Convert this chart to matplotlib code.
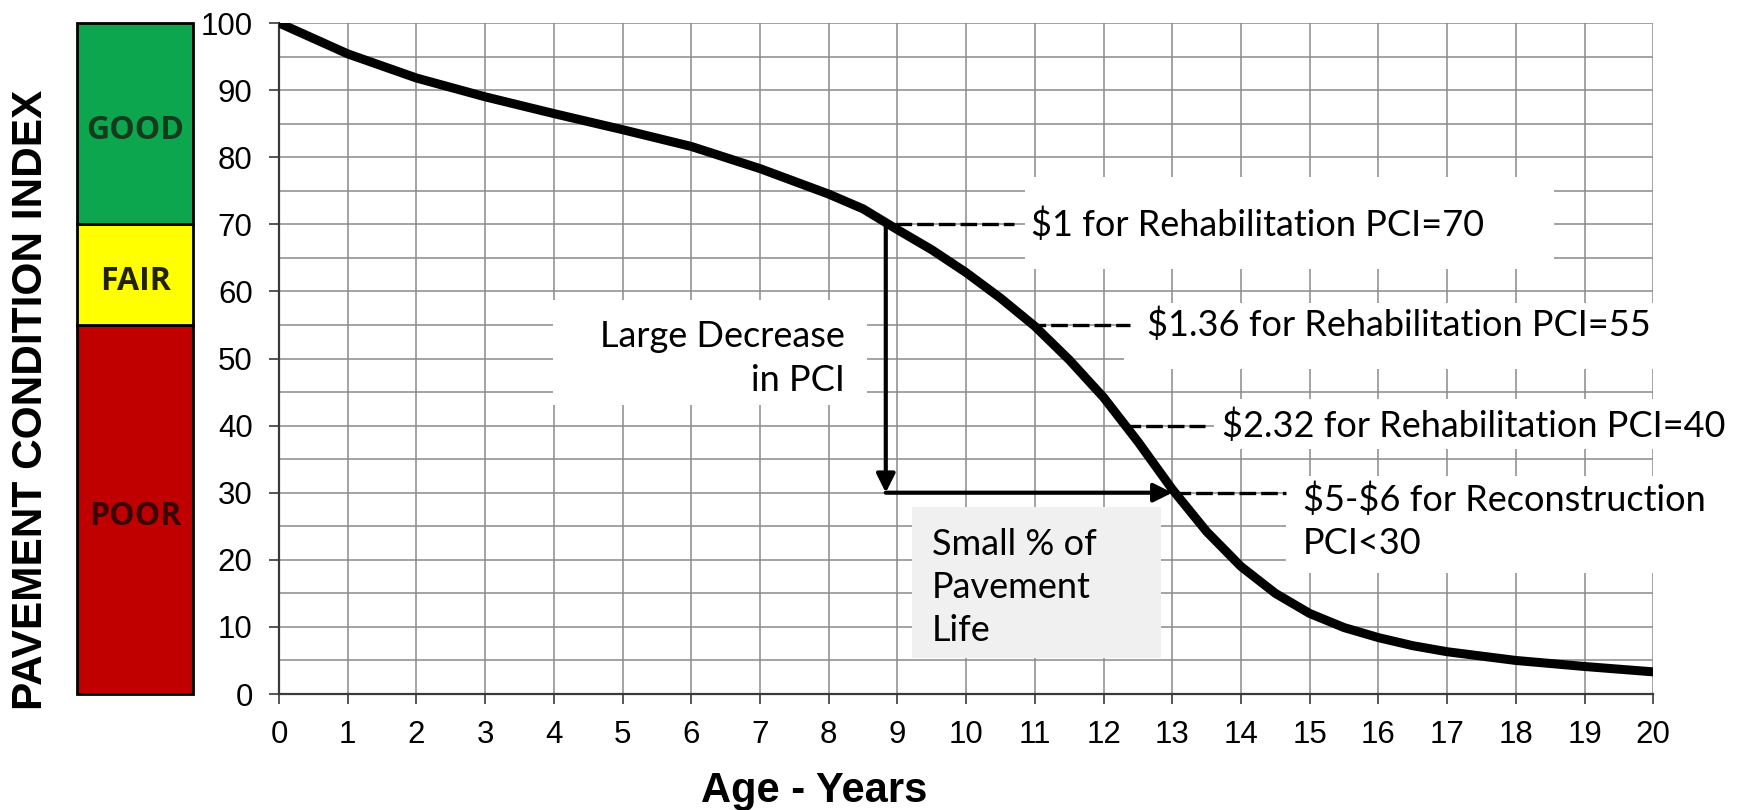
# =====================================================
# PAVEMENT CONDITION INDEX vs AGE
# =====================================================

import matplotlib.pyplot as plt
from matplotlib.patches import Rectangle

# -----------------------------
# DATA
# -----------------------------

# pavement age (years) and PCI
age = [0, 1, 2, 3, 4, 5, 6, 7, 8, 8.5, 9, 9.5, 10, 10.5, 11, 11.5, 12,
       12.5, 13, 13.5, 14, 14.5, 15, 15.5, 16, 16.5, 17, 18, 19, 20]
pci = [100, 95.4, 91.8, 89.0, 86.5, 84.1, 81.6, 78.3, 74.5, 72.3, 69.2, 66.2,
       62.8, 59.0, 54.8, 49.8, 44.2, 37.6, 30.5, 24.2, 19.0, 15.0, 12.0,
       9.9, 8.4, 7.2, 6.3, 5.0, 4.1, 3.3]

# condition bands
band_names = ["POOR", "FAIR", "GOOD"]
band_low = [0, 55, 70]
band_high = [55, 70, 100]

# leader lines: (start age, end age, PCI) and their notes
leader_x0 = [8.97, 10.92, 12.30, 13.03]
leader_x1 = [10.70, 12.38, 13.47, 14.65]
leader_pci = [70, 55, 40, 30]
note_pci = [70, 55, 40, 25.8]
leader_text = ["$1 for Rehabilitation PCI=70",
               "$1.36 for Rehabilitation PCI=55",
               "$2.32 for Rehabilitation PCI=40",
               "$5-$6 for Reconstruction\nPCI<30"]

# drop arrows
drop_age = 8.83
drop_from = 70
drop_to = 30
drop_end_age = 13.0

x_ticks = list(range(0, 21))
y_ticks = list(range(0, 101, 10))

# -----------------------------
# STYLE
# -----------------------------

plt.rcParams["font.family"] = ["Liberation Sans", "DejaVu Sans"]

band_colors = ["#C00000", "#FFFF00", "#0BA64E"]
band_text_colors = ["#3A0505", "#222200", "#163A1E"]
note_font = "Lato"
band_font = "Open Sans"

# text-box backgrounds that hide the grid (x0, y0, x1, y1, colour)
masks = [(10.85, 63.3, 18.56, 77.0, "white"),
         (12.30, 48.5, 20.00, 58.3, "white"),
         (13.60, 36.5, 20.00, 44.0, "white"),
         (14.65, 18.0, 20.00, 32.5, "white"),
         (3.99, 43.0, 8.55, 58.7, "white"),
         (9.21, 5.4, 12.84, 27.9, "#F0F0F0")]

# -----------------------------
# FIGURE
# -----------------------------

fig = plt.figure(figsize=(17.44, 8.1), dpi=100)
ax = fig.add_axes([0.160, 0.1432, 0.788, 0.8284])
ax_bar = fig.add_axes([0.0442, 0.1432, 0.0665, 0.8284])

# colour band bar
heights = [h - l for l, h in zip(band_low, band_high)]
ax_bar.bar([0, 0, 0], heights, bottom=band_low, width=1,
           color=band_colors, edgecolor="black", linewidth=2, clip_on=False)
for name, lo, hi, tc in zip(band_names, band_low, band_high, band_text_colors):
    ax_bar.text(0, (lo + hi) / 2 - 1, name, ha="center", va="center",
                fontsize=23, fontweight="bold", family=band_font, color=tc)
ax_bar.set_xlim(-0.5, 0.5)
ax_bar.set_ylim(0, 100)
ax_bar.axis("off")

# grid and axes
ax.set_xlim(0, 20)
ax.set_ylim(0, 100)
ax.set_xticks(x_ticks)
ax.set_yticks(y_ticks)
ax.set_yticks(range(5, 100, 10), minor=True)
ax.set_axisbelow(True)
ax.grid(True, which="both", color="#8A8A8A", linewidth=1.1)
for s in ["top", "right"]:
    ax.spines[s].set_visible(False)
for s in ["left", "bottom"]:
    ax.spines[s].set_color("#3A3A3A")
    ax.spines[s].set_linewidth(1.6)
ax.tick_params(axis="x", direction="out", length=7, width=1.2,
               color="#3A3A3A", pad=12, labelsize=22.5)
ax.tick_params(axis="y", direction="out", length=7, width=1.2,
               color="#3A3A3A", pad=12, labelsize=22.5)
ax.tick_params(axis="y", which="minor", length=0)

# note backgrounds
for x0, y0, x1, y1, c in masks:
    ax.add_patch(Rectangle((x0, y0), x1 - x0, y1 - y0, facecolor=c,
                           edgecolor="none", zorder=2))

# deterioration curve
ax.plot(age, pci, color="black", linewidth=6.5, solid_joinstyle="round",
        solid_capstyle="butt", zorder=4)

# arrows
ax.annotate("", xy=(drop_age, drop_to), xytext=(drop_age, drop_from),
            arrowprops=dict(arrowstyle="-|>", lw=3, color="black",
                            mutation_scale=28, shrinkA=0, shrinkB=0), zorder=5)
ax.annotate("", xy=(drop_end_age, drop_to), xytext=(drop_age, drop_to),
            arrowprops=dict(arrowstyle="-|>", lw=3, color="black",
                            mutation_scale=28, shrinkA=0, shrinkB=0), zorder=5)

# leader lines and cost notes
for x0, x1, y, ny, txt in zip(leader_x0, leader_x1, leader_pci,
                              note_pci, leader_text):
    ax.plot([x0, x1], [y, y], color="black", linewidth=2.4,
            dashes=(5, 1.5), zorder=4)
    ax.text(x1 + 0.25, ny, txt, ha="left", va="center", parse_math=False,
            fontsize=26, family=note_font, linespacing=1.38, zorder=6)

# large decrease note
ax.text(8.23, 50, "Large Decrease\nin PCI", ha="right", va="center",
        multialignment="right", fontsize=26, family=note_font,
        linespacing=1.38, zorder=6)

# small % note
ax.text(9.5, 15.9, "Small % of\nPavement\nLife", ha="left", va="center",
        fontsize=26, family=note_font, linespacing=1.38, zorder=6)

# axis titles
fig.text(0.018, 0.506, "PAVEMENT CONDITION INDEX", rotation=90,
         ha="center", va="center", fontsize=30.5, fontweight="bold")
fig.text(0.467, 0.0099, "Age - Years", ha="center", va="baseline",
         fontsize=30, fontweight="bold")

plt.savefig("out.png", dpi=100)
